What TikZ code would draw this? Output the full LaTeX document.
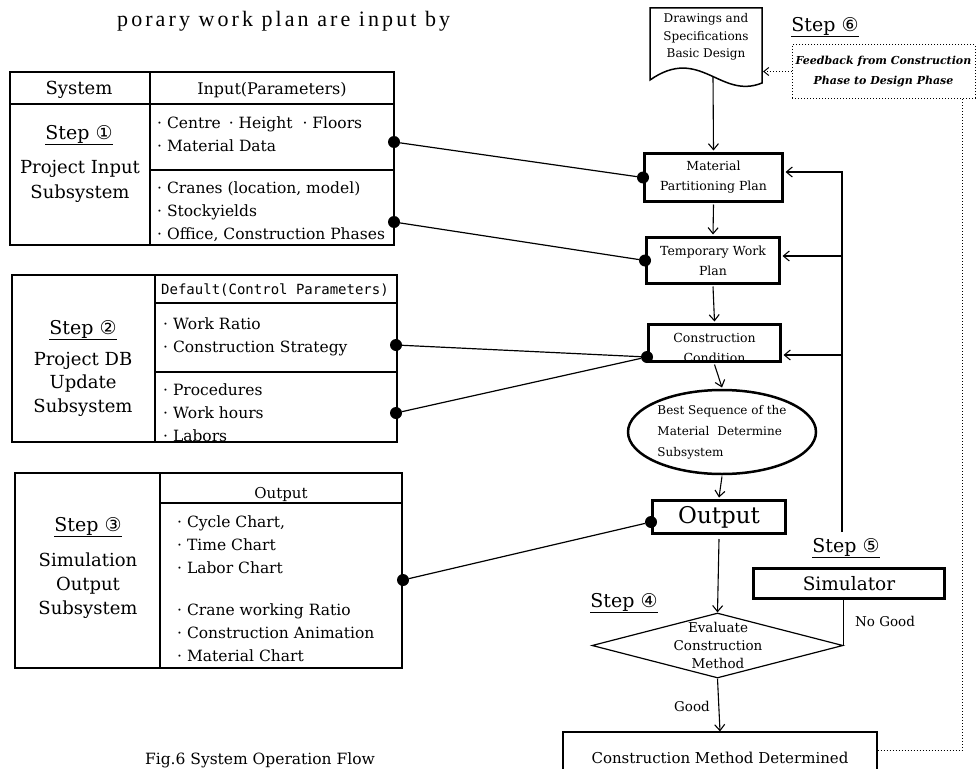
\documentclass[tikz,border=0pt]{standalone}
\usepackage{fontspec}
\setmainfont{DejaVu Serif}
\newfontfamily\circfont{DejaVu Sans}
\newfontfamily\monofnt{DejaVu Sans Mono}
\newfontfamily\topfnt[LetterSpace=14]{Liberation Serif}
\usetikzlibrary{arrows.meta,shapes.geometric,calc}
\newcommand{\cnum}[1]{{\circfont #1}}
\newcommand{\fsz}[2]{\fontsize{#1}{#2}\selectfont}
\begin{document}
\begin{tikzpicture}[x=1pt,y=-1pt,
  tline/.style={line width=1.3pt},
  box/.style={draw, line width=3pt, align=center, inner sep=0pt},
  arr/.style={line width=1.1pt, -{Straight Barb[length=6pt,width=10pt,line width=1.1pt]}},
  conn/.style={line width=1.2pt},
  dot/.style={circle, fill, inner sep=0pt, minimum size=12pt},
  item/.style={anchor=west, align=left, inner sep=0pt, font=\fsz{15.5}{23}},
  big/.style={align=center, inner sep=0pt, font=\fsz{18}{24}},
  steplbl/.style={inner sep=0pt, font=\fsz{19}{22}},
  hdr/.style={inner sep=0pt, font=\fsz{16}{20}},
  fdot/.style={line width=1pt, dash pattern=on 1pt off 2pt}
]
\fill[white] (0,0) rectangle (979,768);
\clip (0,0) rectangle (979,768);

% top body text
\node[anchor=base west, inner sep=0, font=\topfnt\fsz{22}{26}] (toptext) at (117,27) {porary work plan are input by};

% ---- Table 1
\draw[tline] (10,72) rectangle (394,245);
\draw[tline] (150,72) -- (150,245);
\draw[tline] (10,104) -- (394,104);
\draw[tline] (150,170) -- (394,170);
\node[hdr, font=\fsz{18}{20}] (t1h1) at (79,90) {System};
\node[hdr] (t1h2) at (272,90) {Input(Parameters)};
\node[steplbl] (t1s) at (79,135) {\underline{Step \cnum{①}}};
\node[big, font=\fsz{18}{25}] (t1n) at (80,181) {Project Input\\Subsystem};
\node[item] (t1a) at (157,134) {· Centre\hspace{8pt}· Height\hspace{10pt}· Floors\\· Material Data};
\node[item] (t1b) at (157,212) {· Cranes (location, model)\\· Stockyields\\· Office, Construction Phases};
\node[dot] (d1a) at (394,142) {};
\node[dot] (d1b) at (394,222) {};

% ---- Table 2
\draw[tline] (12,275) rectangle (397,442);
\draw[tline] (155,275) -- (155,442);
\draw[tline] (155,303) -- (397,303);
\draw[tline] (155,372) -- (397,372);
\node[inner sep=0, font=\monofnt\fsz{14}{16}] (t2h) at (275,290) {Default(Control Parameters)};
\node[steplbl] (t2s) at (83,330) {\underline{Step \cnum{②}}};
\node[big, font=\fsz{18}{23.5}] (t2n) at (83,384) {Project DB\\Update\\Subsystem};
\node[item] (t2a) at (163,337) {· Work Ratio\\· Construction Strategy};
\node[item] (t2b) at (163,413) {· Procedures\\· Work hours\\· Labors};
\node[dot] (d2a) at (396,345) {};
\node[dot] (d2b) at (396,413) {};

% ---- Table 3
\draw[tline] (15,473) rectangle (402,668);
\draw[tline] (160,473) -- (160,668);
\draw[tline] (160,503) -- (402,503);
\node[hdr, font=\fsz{15}{18}] (t3h) at (281,494) {Output};
\node[steplbl] (t3s) at (88,527) {\underline{Step \cnum{③}}};
\node[big] (t3n) at (88,586) {Simulation\\Output\\Subsystem};
\node[item] (t3a) at (177,545) {· Cycle Chart,\\· Time Chart\\· Labor Chart};
\node[item] (t3b) at (177,633) {· Crane working Ratio\\· Construction Animation\\· Material Chart};
\node[dot] (d3) at (403,580) {};

% ---- Right flow
\draw[line width=1.5pt] (650,8) -- (762,8) -- (762,83) .. controls (720,100) and (700,45) .. (650,80) -- cycle;
\node[align=center, inner sep=0, font=\fsz{12}{17.5}] (doc) at (706,37) {Drawings and\\Specifications\\Basic Design};
\coordinate (docb) at (713,77);
\coordinate (docr) at (763,45);

\node[steplbl] (s6) at (825,27) {\underline{Step \cnum{⑥}}};
\node[draw, fdot, minimum width=183, minimum height=53, inner sep=0, align=center, font=\bfseries\itshape\fsz{11}{20}] (fb) at (883.5,71.5) {Feedback from Construction\\Phase to Design Phase};
\draw[fdot, -{Straight Barb[length=5pt,width=8pt,line width=1pt]}] (fb.west) -- (fb.west -| docr);

\node[box, minimum width=138, minimum height=48, font=\fsz{12.5}{20}] (mpp) at (713.5,177.5) {Material\\Partitioning Plan};
\node[box, minimum width=133, minimum height=46, font=\fsz{12.5}{20}] (twp) at (713,260.5) {Temporary Work\\Plan};
\node[box, minimum width=132, minimum height=37] (cc) at (714.5,343) {};
\node[inner sep=0, align=center, font=\fsz{12.5}{20}] (cct) at (714.5,348) {Construction\\Condition};
\node[ellipse, draw, line width=2.5pt, minimum width=188, minimum height=84, inner sep=0, align=left, font=\fsz{12}{21}] (ell) at (722,432) {Best Sequence of the\\Material\hspace{8pt}Determine\\Subsystem};
\node[box, minimum width=133, minimum height=33, font=\fsz{23}{26}] (out) at (719,517) {Output};
\node[diamond, draw, line width=1.2pt, minimum width=251, minimum height=65, inner sep=0] (dia) at (717.5,645.5) {};
\node[inner sep=0, align=center, font=\fsz{13.5}{18}] (diat) at (718,645) {Evaluate\\Construction\\Method};
\node[steplbl] (s4) at (624,603) {\underline{Step \cnum{④}}};
\node[box, minimum width=191, minimum height=30, font=\fsz{18.5}{22}] (sim) at (849,583.5) {Simulator};
\node[steplbl] (s5) at (846,548) {\underline{Step \cnum{⑤}}};
\node[inner sep=0, font=\fsz{13.5}{16}] (ng) at (885,621) {No Good};
\node[inner sep=0, font=\fsz{13.5}{16}] (good) at (692,706) {Good};
\node[draw, line width=1.2pt, minimum width=314, minimum height=52, inner sep=0, font=\fsz{15}{17}] (fin) at (720,758) {Construction Method Determined};
\node[inner sep=0, font=\fsz{15.5}{18}, anchor=base] (cap) at (260,764) {Fig.6 System Operation Flow};

% arrows down the flow
\draw[arr] (docb) -- ([yshift=1.5pt]mpp.north);
\draw[arr] ([yshift=-1.5pt]mpp.south) -- ([yshift=1.5pt]twp.north);
\draw[arr] ([yshift=-1.5pt]twp.south) -- ([yshift=1.5pt]cc.north);
\draw[arr] ([yshift=-1.5pt]cc.south) -- ([yshift=1.25pt]ell.north);
\draw[arr] ([yshift=-1.25pt]ell.south) -- ([yshift=1.5pt]out.north);
\draw[arr] ([yshift=-4pt]out.south) -- (dia.north);
\draw[arr] (dia.south) -- (fin.north);
\draw[conn] (dia.east) -- (dia.east |- sim.south);

% feedback loop
\coordinate (fbb) at (842,532);
\coordinate (me) at ([yshift=5.5pt,xshift=1.5pt]mpp.east);
\coordinate (tw) at ([yshift=4.5pt,xshift=1.5pt]twp.east);
\coordinate (ce) at ([yshift=-12pt,xshift=1.5pt]cc.east);
\draw[arr] (fbb) |- (me);
\draw[arr] (fbb |- tw) -- (tw);
\draw[arr] (fbb |- ce) -- (ce);

% dotted feedback to design
\coordinate (fbd) at ([xshift=-13pt]fb.south east);
\draw[fdot] ([yshift=8pt]fin.east) -| (fbd);

% dots and connectors
\node[dot] (dm) at (mpp.west) {};
\node[dot] (dt) at (twp.west) {};
\node[dot] (dc) at ([yshift=-14pt]cc.west) {};
\node[dot] (dout) at ([yshift=-5pt]out.west) {};
\draw[conn] (d1a) -- (dm);
\draw[conn] (d1b) -- (dt);
\draw[conn] (d2a) -- (dc);
\draw[conn] (d2b) -- (dc);
\draw[conn] (d3) -- (dout);
\end{tikzpicture}
\end{document}
